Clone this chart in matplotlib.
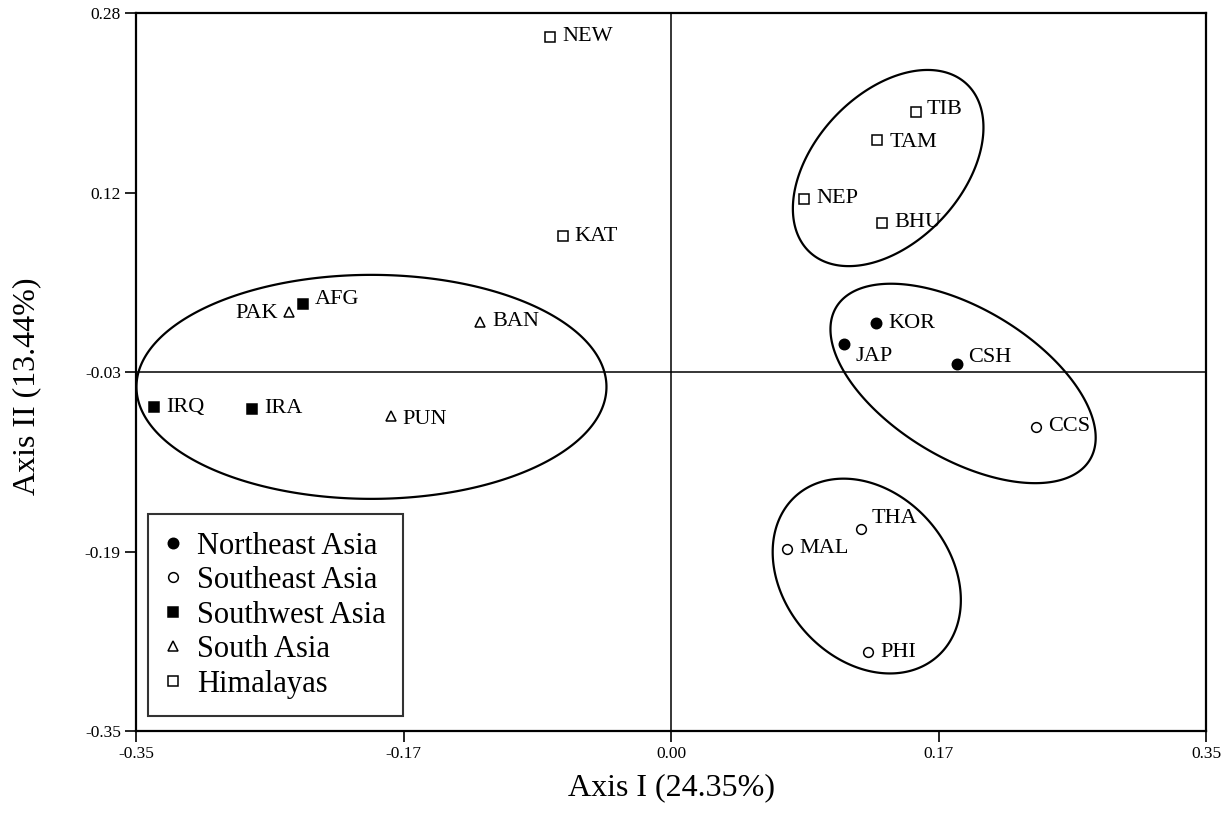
import matplotlib
matplotlib.use('Agg')
import matplotlib.pyplot as plt
from matplotlib.lines import Line2D
import numpy as np

plt.rcParams['font.family'] = ['Liberation Serif', 'DejaVu Serif']

# poblaciones y coordenadas (eje I, eje II)
etiquetas = ['NEW', 'KAT', 'TIB', 'TAM', 'NEP', 'BHU',
             'PAK', 'AFG', 'BAN', 'IRQ', 'IRA', 'PUN',
             'KOR', 'JAP', 'CSH', 'CCS', 'THA', 'MAL', 'PHI']
eje1 = [-0.079, -0.071, 0.160, 0.135, 0.087, 0.138,
        -0.250, -0.241, -0.125, -0.338, -0.274, -0.183,
        0.134, 0.113, 0.187, 0.239, 0.124, 0.076, 0.129]
eje2 = [0.259, 0.084, 0.193, 0.169, 0.117, 0.096,
        0.018, 0.025, 0.009, -0.066, -0.067, -0.074,
        0.008, -0.010, -0.028, -0.083, -0.173, -0.190, -0.281]
grupo = ['Himalayas'] * 6 + ['South Asia', 'Southwest Asia', 'South Asia',
                            'Southwest Asia', 'Southwest Asia', 'South Asia'] + \
        ['Northeast Asia'] * 3 + ['Southeast Asia'] * 4

grupos = ['Northeast Asia', 'Southeast Asia', 'Southwest Asia', 'South Asia', 'Himalayas']

xticks_lab = ['-0.35', '-0.17', '0.00', '0.17', '0.35']
yticks_lab = ['-0.35', '-0.19', '-0.03', '0.12', '0.28']

# elipses: centro (datos), semiejes (px), angulo (grados)
elip_cx = [-0.196, 0.142, 0.191, 0.128]
elip_cy = [-0.048, 0.144, -0.045, -0.214]
elip_a = [235, 115, 148, 107]
elip_b = [112, 74, 75, 83]
elip_ang = [0, 47, -31, -49]

estilos = {
    'Northeast Asia': dict(marker='o', mfc='black', ms=7.5),
    'Southeast Asia': dict(marker='o', mfc='white', ms=7),
    'Southwest Asia': dict(marker='s', mfc='black', ms=7),
    'South Asia': dict(marker='^', mfc='white', ms=7.5),
    'Himalayas': dict(marker='s', mfc='white', ms=7),
}

# desplazamiento de etiquetas en px (dx, dy hacia arriba)
desp = {'PAK': (-11, -2), 'JAP': (12, -13), 'CSH': (11, 7), 'THA': (11, 11),
        'AFG': (12, 4), 'TIB': (11, 3), 'TAM': (12, -3), 'PUN': (11, -3)}

fig = plt.figure(figsize=(12.3, 8.15), dpi=100)
ax_l, ax_b, ax_w, ax_h = 0.1106, 0.103, 0.870, 0.881
ax = fig.add_axes([ax_l, ax_b, ax_w, ax_h])

xmin, xmax = -0.35, 0.35
ymin, ymax = -0.35, 0.28
ax.set_xlim(xmin, xmax)
ax.set_ylim(ymin, ymax)

ax.axvline(0, color='black', lw=1.1, zorder=1)
ax.axhline(np.linspace(ymax, ymin, 5)[2], color='black', lw=1.1, zorder=1)

px_x = 1230 * ax_w / (xmax - xmin)
px_y = 815 * ax_h / (ymax - ymin)
t = np.linspace(0, 2 * np.pi, 400)
for cx, cy, a, b, ang in zip(elip_cx, elip_cy, elip_a, elip_b, elip_ang):
    th = np.radians(ang)
    u = a * np.cos(t)
    v = b * np.sin(t)
    ex = cx + (u * np.cos(th) - v * np.sin(th)) / px_x
    ey = cy + (u * np.sin(th) + v * np.cos(th)) / px_y
    ax.fill(ex, ey, fill=False, edgecolor='black', lw=1.6, joinstyle='round', zorder=2)

for x, y, lab, g in zip(eje1, eje2, etiquetas, grupo):
    ax.plot(x, y, linestyle='', mec='black', mew=1.1, zorder=3, **estilos[g])
    dx, dy = desp.get(lab, (12, 0))
    ax.annotate(lab, (x, y), xytext=(dx * 0.72, dy * 0.72), textcoords='offset points',
                ha='right' if dx < 0 else 'left', va='center', fontsize=16)

ax.set_xticks(np.linspace(xmin, xmax, 5))
ax.set_xticklabels(xticks_lab)
ax.set_yticks(np.linspace(ymin, ymax, 5))
ax.set_yticklabels(yticks_lab)
ax.tick_params(direction='out', length=8, width=1.2, labelsize=12.5, pad=3)
for s in ax.spines.values():
    s.set_linewidth(1.6)

ax.set_xlabel('Axis I (24.35%)', fontsize=23, labelpad=8)
ax.set_ylabel('Axis II (13.44%)', fontsize=23)
ax.yaxis.set_label_coords(-0.089, 0.48)

manejadores = [Line2D([], [], linestyle='', mec='black', mew=1.1, **estilos[g]) for g in grupos]
leg = ax.legend(manejadores, grupos, loc='lower left', bbox_to_anchor=(0.011, 0.021),
                borderaxespad=0, fontsize=22, frameon=True, fancybox=False,
                edgecolor='black', handlelength=0.5, handletextpad=0.54,
                labelspacing=0.18, borderpad=0.57)
leg.get_frame().set_linewidth(1.5)

plt.savefig('out.png', dpi=100)
